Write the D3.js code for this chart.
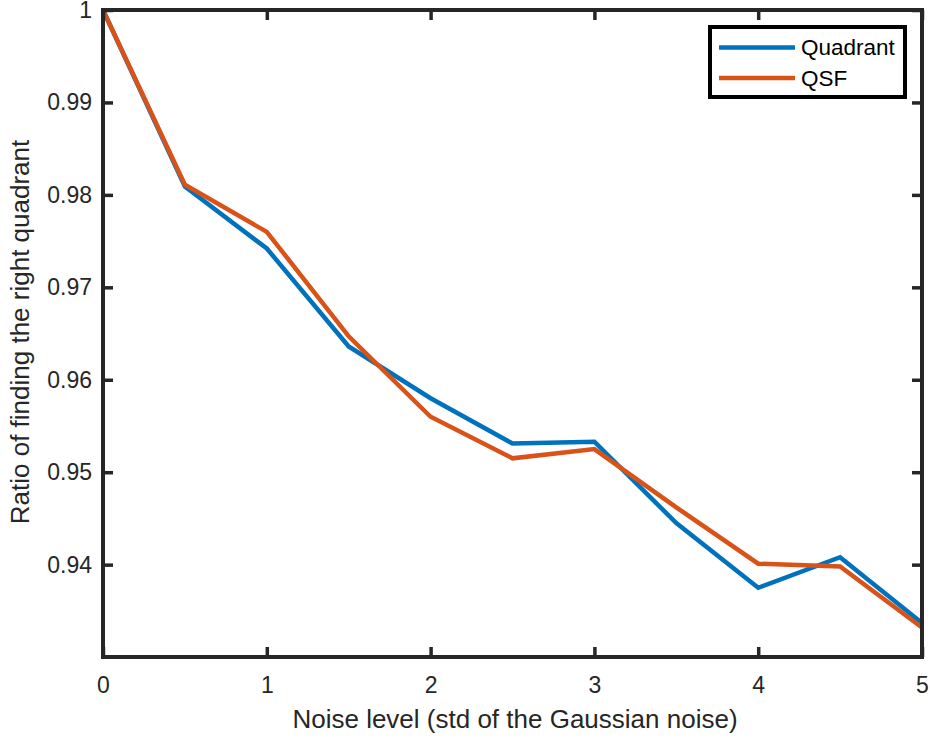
<!DOCTYPE html>
<html>
<head>
<meta charset="utf-8">
<script src="https://cdn.jsdelivr.net/npm/d3@7"></script>
<style>
  body { margin: 0; background: #fff; }
  text { font-family: "Liberation Sans", Arial, Helvetica, sans-serif; }
</style>
</head>
<body>
<div class="canvas"></div>
<script>
// noise levels (x) and the two series
const noise = [0, 0.5, 1, 1.5, 2, 2.5, 3, 3.5, 4, 4.5, 5];
const quadrant = [1.0, 0.9809, 0.9742, 0.9636, 0.9580, 0.9531, 0.9533, 0.9445, 0.9375, 0.9408, 0.9337];
const qsf = [1.0, 0.9811, 0.9760, 0.9647, 0.9560, 0.9515, 0.9525, 0.9462, 0.9401, 0.9398, 0.9332];
const xTicks = [0, 1, 2, 3, 4, 5];
const yTicks = [0.94, 0.95, 0.96, 0.97, 0.98, 0.99, 1];
const seriesNames = ['Quadrant', 'QSF'];
const seriesColours = ['#0072BD', '#D95319'];

const width = 930, height = 740;
const margin = { top: 10, right: 8, bottom: 83, left: 103 };
const innerW = width - margin.left - margin.right;
const innerH = height - margin.top - margin.bottom;

const svg = d3.select('.canvas')
  .append('svg')
  .attr('width', width)
  .attr('height', height);

const graph = svg.append('g')
  .attr('transform', `translate(${margin.left}, ${margin.top})`);

const x = d3.scaleLinear().domain([0, 5]).range([0, innerW]);
const y = d3.scaleLinear().domain([0.93001, 1]).range([innerH, 0]);

const axisColour = '#262626';

// lines
const line = d3.line()
  .x(d => x(d[0]))
  .y(d => y(d[1]));

[quadrant, qsf].forEach((vals, i) => {
  graph.append('path')
    .datum(noise.map((n, j) => [n, vals[j]]))
    .attr('fill', 'none')
    .attr('stroke', seriesColours[i])
    .attr('stroke-width', 4.5)
    .attr('stroke-linejoin', 'miter')
    .attr('d', line);
});

// axes (ticks pointing inward, mirrored on top/right)
const tickLen = 10;
const styleAxis = g => {
  g.select('.domain').remove();
  g.selectAll('.tick line').attr('stroke', axisColour).attr('stroke-width', 3.5);
  g.selectAll('.tick text')
    .attr('fill', axisColour)
    .style('font-size', '23px')
    .style('font-family', '"Liberation Sans", Arial, Helvetica, sans-serif');
};

graph.append('g')
  .attr('transform', `translate(0, ${innerH})`)
  .call(d3.axisBottom(x).tickValues(xTicks).tickFormat(d3.format('d'))
    .tickSizeInner(-tickLen).tickSizeOuter(0).tickPadding(20))
  .call(styleAxis);

graph.append('g')
  .call(d3.axisLeft(y).tickValues(yTicks).tickFormat(d => d === 1 ? '1' : d3.format('.2f')(d))
    .tickSizeInner(-tickLen).tickSizeOuter(0).tickPadding(11))
  .call(styleAxis);

graph.append('g')
  .call(d3.axisTop(x).tickValues(xTicks).tickFormat('')
    .tickSizeInner(-tickLen).tickSizeOuter(0))
  .call(styleAxis);

graph.append('g')
  .attr('transform', `translate(${innerW}, 0)`)
  .call(d3.axisRight(y).tickValues(yTicks).tickFormat('')
    .tickSizeInner(-tickLen).tickSizeOuter(0))
  .call(styleAxis);

// box
graph.append('rect')
  .attr('width', innerW)
  .attr('height', innerH)
  .attr('fill', 'none')
  .attr('stroke', axisColour)
  .attr('stroke-width', 4);

// axis labels
svg.append('text')
  .attr('x', 515)
  .attr('y', 728)
  .attr('text-anchor', 'middle')
  .attr('fill', axisColour)
  .style('font-size', '26px')
  .text('Noise level (std of the Gaussian noise)');

svg.append('text')
  .attr('transform', `translate(29, 332) rotate(-90)`)
  .attr('text-anchor', 'middle')
  .attr('fill', axisColour)
  .style('font-size', '26px')
  .text('Ratio of finding the right quadrant');

// legend
const legend = svg.append('g').attr('transform', 'translate(710, 27)');
legend.append('rect')
  .attr('width', 195)
  .attr('height', 70)
  .attr('fill', '#fff')
  .attr('stroke', '#000')
  .attr('stroke-width', 4);

seriesNames.forEach((name, i) => {
  const ly = 20.5 + i * 30.5;
  legend.append('line')
    .attr('x1', 9).attr('x2', 85)
    .attr('y1', ly).attr('y2', ly)
    .attr('stroke', seriesColours[i])
    .attr('stroke-width', 4.5);
  legend.append('text')
    .attr('x', 91)
    .attr('y', ly)
    .attr('dy', '0.35em')
    .attr('fill', '#000')
    .style('font-size', '22.5px')
    .text(name);
});
</script>
</body>
</html>
